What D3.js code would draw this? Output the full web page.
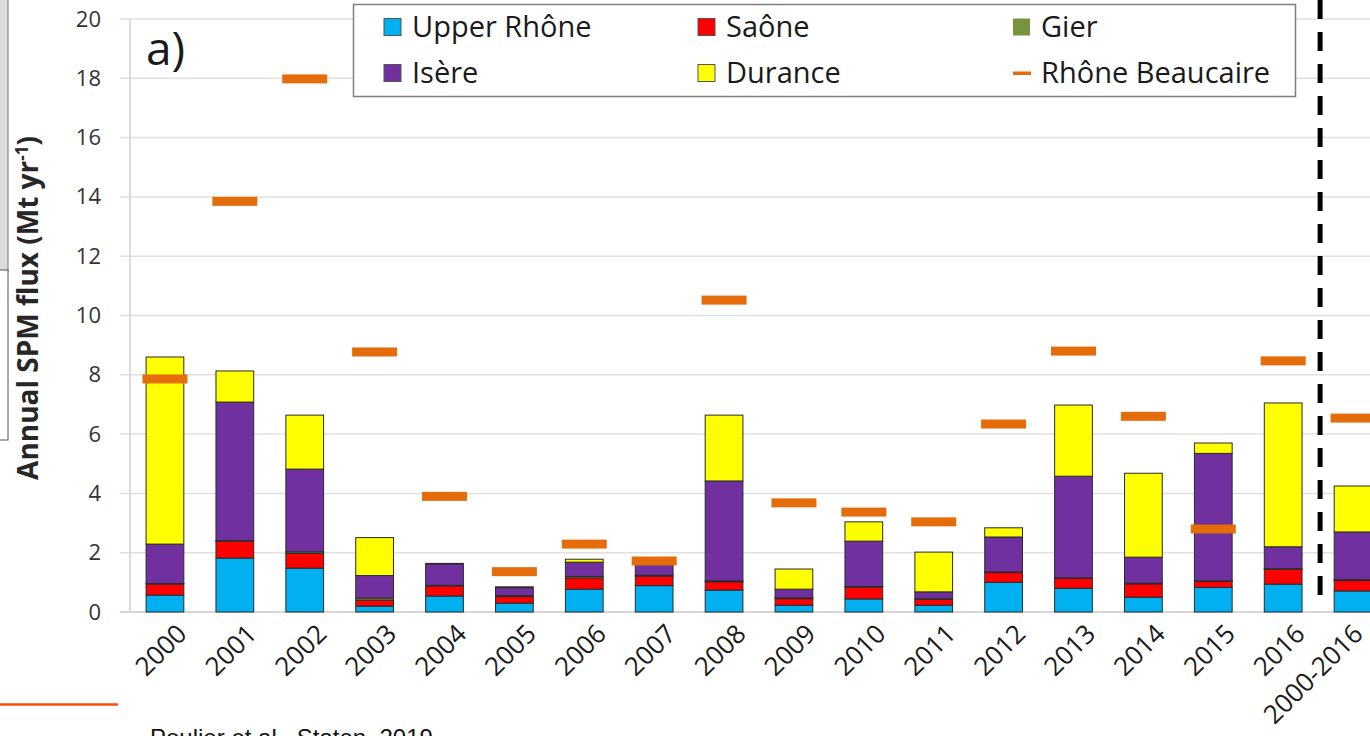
<!DOCTYPE html>
<html>
<head>
<meta charset="utf-8">
<script src="https://cdn.jsdelivr.net/npm/d3@7"></script>
<style>
  body { margin: 0; background: #fff; overflow: hidden; }
  svg { display: block; font-family: "Open Sans", Lato, sans-serif; }
</style>
</head>
<body>
<div id="chart"></div>
<script>
var width = 1370, height = 736;

// data (Mt/yr)
var years = ["2000", "2001", "2002", "2003", "2004", "2005", "2006", "2007", "2008",
             "2009", "2010", "2011", "2012", "2013", "2014", "2015", "2016", "2000-2016"];
var upperRhone = [0.57, 1.82, 1.48, 0.20, 0.54, 0.30, 0.77, 0.89, 0.74, 0.23, 0.44, 0.23, 1.00, 0.80, 0.50, 0.83, 0.94, 0.71];
var saone      = [0.37, 0.57, 0.50, 0.20, 0.34, 0.22, 0.38, 0.32, 0.28, 0.22, 0.40, 0.20, 0.33, 0.33, 0.45, 0.20, 0.50, 0.35];
var gier       = [0.02, 0.02, 0.05, 0.07, 0.02, 0.03, 0.05, 0.03, 0.03, 0.03, 0.02, 0.02, 0.02, 0.02, 0.02, 0.02, 0.02, 0.03];
var isere      = [1.33, 4.67, 2.79, 0.76, 0.72, 0.27, 0.48, 0.50, 3.37, 0.29, 1.53, 0.23, 1.18, 3.43, 0.88, 4.30, 0.74, 1.61];
var durance    = [6.31, 1.05, 1.82, 1.28, 0.02, 0.03, 0.10, 0.06, 2.22, 0.68, 0.65, 1.34, 0.31, 2.40, 2.83, 0.35, 4.85, 1.55];
var beaucaire  = [7.86, 13.85, 17.98, 8.77, 3.90, 1.36, 2.29, 1.72, 10.52, 3.68, 3.37, 3.04, 6.34, 8.80, 6.60, 2.80, 8.47, 6.54];

var yTicks = [0, 2, 4, 6, 8, 10, 12, 14, 16, 18, 20];

var series = [
  { key: "upperRhone", name: "Upper Rhône", values: upperRhone, color: "#00b0f0" },
  { key: "saone",      name: "Saône",       values: saone,      color: "#ff0000" },
  { key: "gier",       name: "Gier",        values: gier,       color: "#77933c" },
  { key: "isere",      name: "Isère",       values: isere,      color: "#7030a0" },
  { key: "durance",    name: "Durance",     values: durance,    color: "#ffff00" }
];
var beaucaireColor = "#e46c0a";

var rows = years.map(function(y, i) {
  var r = { year: y, beaucaire: beaucaire[i] };
  series.forEach(function(s) { r[s.key] = s.values[i]; });
  return r;
});

var svg = d3.select("#chart").append("svg").attr("width", width).attr("height", height);

// bits of the slide around the chart
svg.append("rect").attr("x", -1).attr("y", -1).attr("width", 9).attr("height", 272)
    .attr("fill", "#dcdcdc").attr("stroke", "#777");
svg.append("rect").attr("x", -1).attr("y", 270).attr("width", 9).attr("height", 170)
    .attr("fill", "#fff").attr("stroke", "#555");

var x = d3.scaleBand()
    .domain(years)
    .range([130, 1388])
    .paddingInner(0.46)
    .paddingOuter(0.23);

var y = d3.scaleLinear()
    .domain([0, 20])
    .range([612, 19]);

// gridlines
svg.append("g")
  .selectAll("line")
  .data(yTicks)
  .enter().append("line")
    .attr("x1", 120).attr("x2", width)
    .attr("y1", function(d) { return y(d); })
    .attr("y2", function(d) { return y(d); })
    .attr("stroke", function(d) { return d === 0 ? "#c8c8c8" : "#e0e0e0"; })
    .attr("stroke-width", 1.5);

svg.append("line")
    .attr("x1", 130).attr("x2", 130).attr("y1", y(20)).attr("y2", y(0))
    .attr("stroke", "#d0d0d0").attr("stroke-width", 1.5);

// y axis labels
var yAxis = svg.append("g")
    .attr("transform", "translate(101,0)")
    .call(d3.axisLeft(y).tickValues(yTicks).tickSize(0).tickPadding(0));
yAxis.select(".domain").remove();
yAxis.selectAll("text")
    .attr("font-size", 22)
    .attr("font-family", "'Open Sans', sans-serif")
    .attr("fill", "#333");

svg.append("text")
    .attr("transform", "translate(38,308) rotate(-90)")
    .attr("text-anchor", "middle")
    .attr("font-size", 28)
    .attr("font-weight", "bold")
    .attr("fill", "#262626")
    .html('Annual SPM flux (Mt yr<tspan dy="-10" font-size="17">-1</tspan><tspan dy="10">)</tspan>');

svg.append("text")
    .attr("x", 146).attr("y", 65)
    .attr("font-size", 46)
    .attr("fill", "#1a1a1a")
    .text("a)");

// stacked bars
var stack = d3.stack().keys(series.map(function(s) { return s.key; }));
var stacked = stack(rows);

svg.append("g")
  .selectAll("g")
  .data(stacked)
  .enter().append("g")
    .attr("fill", function(d, i) { return series[i].color; })
  .selectAll("rect")
  .data(function(d) { return d; })
  .enter().append("rect")
    .attr("x", function(d) { return x(d.data.year); })
    .attr("y", function(d) { return y(d[1]); })
    .attr("width", x.bandwidth())
    .attr("height", function(d) { return y(d[0]) - y(d[1]); })
    .attr("stroke", "#2b2b2b")
    .attr("stroke-width", 1);

// Rhône at Beaucaire markers
svg.append("g")
  .selectAll("rect")
  .data(rows)
  .enter().append("rect")
    .attr("x", function(d) { return x(d.year) + x.bandwidth() / 2 - 22.5; })
    .attr("y", function(d) { return y(d.beaucaire) - 4.5; })
    .attr("width", 45)
    .attr("height", 9)
    .attr("fill", beaucaireColor);

// separator between single years and the mean
var sepX = (x("2016") + x("2000-2016") + x.bandwidth()) / 2 + 2;
svg.append("line")
    .attr("x1", sepX).attr("x2", sepX)
    .attr("y1", 0).attr("y2", y(0) - 6)
    .attr("stroke", "#000")
    .attr("stroke-width", 5)
    .attr("stroke-dasharray", "19,13");

// x labels (the long last one sits closer to its tick, as in Excel)
svg.append("g")
  .selectAll("text")
  .data(years)
  .enter().append("text")
    .attr("transform", function(d) {
      var off = d.length > 4 ? 5 : 17;
      return "translate(" + (x(d) + x.bandwidth() / 2 + off) + ",629) rotate(-45)";
    })
    .attr("text-anchor", "end")
    .attr("dy", "0.35em")
    .attr("font-size", 26)
    .attr("fill", "#1a1a1a")
    .text(function(d) { return d; });

// legend
var legend = svg.append("g");
legend.append("rect")
    .attr("x", 353.5).attr("y", 4.5).attr("width", 942).attr("height", 92)
    .attr("fill", "#fff").attr("stroke", "#7f7f7f").attr("stroke-width", 1.5);

var legendItems = [
  { name: "Upper Rhône", color: series[0].color, col: 0, row: 0 },
  { name: "Saône", color: series[1].color, col: 1, row: 0 },
  { name: "Gier", color: series[2].color, col: 2, row: 0 },
  { name: "Isère", color: series[3].color, col: 0, row: 1 },
  { name: "Durance", color: series[4].color, col: 1, row: 1 },
  { name: "Rhône Beaucaire", color: beaucaireColor, col: 2, row: 1, line: true }
];
var colX = [384, 698, 1013], rowY = [27, 73];

var li = legend.selectAll("g.item")
  .data(legendItems)
  .enter().append("g")
    .attr("class", "item")
    .attr("transform", function(d) { return "translate(" + colX[d.col] + "," + rowY[d.row] + ")"; });

li.filter(function(d) { return !d.line; }).append("rect")
    .attr("x", 0).attr("y", -8.5).attr("width", 17).attr("height", 17)
    .attr("fill", function(d) { return d.color; })
    .attr("stroke", function(d) { return d.name === "Gier" ? "none" : "#555"; })
    .attr("stroke-width", 1);
li.filter(function(d) { return d.line; }).append("rect")
    .attr("x", 0).attr("y", -1.5).attr("width", 18).attr("height", 3.5)
    .attr("fill", function(d) { return d.color; });

li.append("text")
    .attr("x", 28).attr("dy", "0.36em")
    .attr("font-size", 29)
    .attr("fill", "#1a1a1a")
    .text(function(d) { return d.name; });

// slide footer
svg.append("line")
    .attr("x1", 0).attr("x2", 118).attr("y1", 704.5).attr("y2", 704.5)
    .attr("stroke", "#ff4b0a").attr("stroke-width", 2.5);
svg.append("text")
    .attr("x", 150).attr("y", 746)
    .attr("font-family", "Liberation Sans, Arial, sans-serif")
    .attr("font-size", 24)
    .attr("fill", "#111")
    .text("Poulier et al., Staten, 2019");
</script>
</body>
</html>
